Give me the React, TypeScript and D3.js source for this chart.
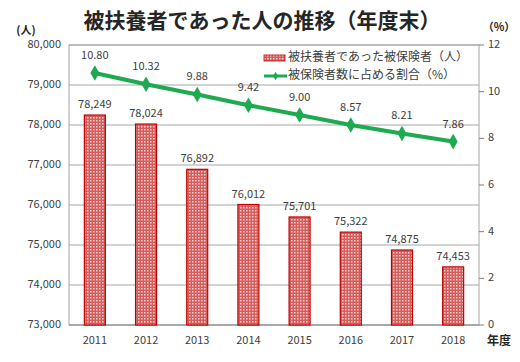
import { useEffect, useRef } from "react";
import * as d3 from "d3";

const years = ["2011", "2012", "2013", "2014", "2015", "2016", "2017", "2018"];
const dependents = [78249, 78024, 76892, 76012, 75701, 75322, 74875, 74453];
const ratio = [10.8, 10.32, 9.88, 9.42, 9.0, 8.57, 8.21, 7.86];
const leftTicks = [73000, 74000, 75000, 76000, 77000, 78000, 79000, 80000];
const rightTicks = [0, 2, 4, 6, 8, 10, 12];

const title = "被扶養者であった人の推移（年度末）";
const barLabel = "被扶養者であった被保険者（人）";
const lineLabel = "被保険者数に占める割合（%）";

const FONT = "'Noto Sans CJK JP', 'Noto Sans', sans-serif";

function App() {
  const ref = useRef<SVGSVGElement>(null);

  useEffect(() => {
    const width = 520;
    const height = 362;
    const margin = { top: 45, right: 41, bottom: 37, left: 69 };
    const innerWidth = width - margin.left - margin.right;
    const innerHeight = height - margin.top - margin.bottom;

    const svg = d3.select(ref.current);
    svg.selectAll("*").remove();

    // dotted red fill like the original bars
    const pattern = svg
      .append("defs")
      .append("pattern")
      .attr("id", "dots")
      .attr("width", 3)
      .attr("height", 3)
      .attr("patternUnits", "userSpaceOnUse");
    pattern.append("rect").attr("width", 3).attr("height", 3).attr("fill", "#d65c5c");
    pattern.append("rect").attr("width", 1.5).attr("height", 1.5).attr("fill", "#f2d4d4");

    const xScale = d3.scaleBand().domain(years).range([0, innerWidth]).paddingInner(0.59).paddingOuter(0.3);
    const yLeft = d3.scaleLinear().domain([73000, 80000]).range([innerHeight, 0]);
    const yRight = d3.scaleLinear().domain([0, 12]).range([innerHeight, 0]);

    const chart = svg.append("g").attr("transform", `translate(${margin.left}, ${margin.top})`);

    // grid
    chart
      .selectAll(".grid")
      .data(leftTicks.slice(1))
      .join("line")
      .attr("x1", 0)
      .attr("x2", innerWidth)
      .attr("y1", d => yLeft(d))
      .attr("y2", d => yLeft(d))
      .attr("stroke", "#a6a6a6")
      .attr("stroke-width", 1);

    chart
      .append("rect")
      .attr("width", innerWidth)
      .attr("height", innerHeight)
      .attr("fill", "none")
      .attr("stroke", "#a6a6a6");

    chart
      .append("line")
      .attr("x1", 0)
      .attr("x2", innerWidth)
      .attr("y1", innerHeight)
      .attr("y2", innerHeight)
      .attr("stroke", "#7f7f7f");

    // left axis labels
    chart
      .selectAll(".lt")
      .data(leftTicks)
      .join("text")
      .attr("x", -8)
      .attr("y", d => yLeft(d))
      .attr("text-anchor", "end")
      .attr("dominant-baseline", "middle")
      .attr("fill", "#404040")
      .style("font-size", "11px")
      .style("font-family", FONT)
      .text(d => d3.format(",")(d));

    // right axis ticks + labels
    chart
      .selectAll(".rtick")
      .data(rightTicks)
      .join("line")
      .attr("x1", innerWidth)
      .attr("x2", innerWidth + 5)
      .attr("y1", d => yRight(d))
      .attr("y2", d => yRight(d))
      .attr("stroke", "#7f7f7f");

    chart
      .selectAll(".rt")
      .data(rightTicks)
      .join("text")
      .attr("x", innerWidth + 9)
      .attr("y", d => yRight(d))
      .attr("dominant-baseline", "middle")
      .attr("fill", "#404040")
      .style("font-size", "11px")
      .style("font-family", FONT)
      .text(d => d);

    // x labels
    chart
      .selectAll(".xt")
      .data(years)
      .join("text")
      .attr("x", d => xScale(d)! + xScale.bandwidth() / 2)
      .attr("y", innerHeight + 16)
      .attr("text-anchor", "middle")
      .attr("dominant-baseline", "middle")
      .attr("fill", "#404040")
      .style("font-size", "11px")
      .style("font-family", FONT)
      .text(d => d);

    // bars
    chart
      .selectAll(".bar")
      .data(dependents)
      .join("rect")
      .attr("x", (d, i) => xScale(years[i])!)
      .attr("y", d => yLeft(d))
      .attr("width", xScale.bandwidth())
      .attr("height", d => innerHeight - yLeft(d))
      .attr("fill", "url(#dots)")
      .attr("stroke", "#c00000")
      .attr("stroke-width", 1.2);

    chart
      .selectAll(".barlabel")
      .data(dependents)
      .join("text")
      .attr("x", (d, i) => xScale(years[i])! + xScale.bandwidth() / 2)
      .attr("y", d => yLeft(d) - 10)
      .attr("text-anchor", "middle")
      .attr("dominant-baseline", "middle")
      .attr("fill", "#404040")
      .style("font-size", "11px")
      .style("font-family", FONT)
      .text(d => d3.format(",")(d));

    // line
    const green = "#1daa50";
    const line = d3
      .line<number>()
      .x((d, i) => xScale(years[i])! + xScale.bandwidth() / 2)
      .y(d => yRight(d));

    chart
      .append("path")
      .datum(ratio)
      .attr("d", line)
      .attr("fill", "none")
      .attr("stroke", green)
      .attr("stroke-width", 4);

    const diamond = d3.symbol().type(d3.symbolDiamond).size(70);
    chart
      .selectAll(".pt")
      .data(ratio)
      .join("path")
      .attr("d", diamond)
      .attr("transform", (d, i) => `translate(${xScale(years[i])! + xScale.bandwidth() / 2}, ${yRight(d)})`)
      .attr("fill", green);

    chart
      .selectAll(".ptlabel")
      .data(ratio)
      .join("text")
      .attr("x", (d, i) => xScale(years[i])! + xScale.bandwidth() / 2)
      .attr("y", d => yRight(d) - 17)
      .attr("text-anchor", "middle")
      .attr("dominant-baseline", "middle")
      .attr("fill", "#404040")
      .style("font-size", "11px")
      .style("font-family", FONT)
      .text(d => d.toFixed(2));

    // legend
    const legend = svg.append("g").attr("transform", "translate(264, 58)");
    legend
      .append("rect")
      .attr("x", 0)
      .attr("y", -3)
      .attr("width", 21)
      .attr("height", 6)
      .attr("fill", "url(#dots)")
      .attr("stroke", "#c00000")
      .attr("stroke-width", 0.8);
    legend
      .append("text")
      .attr("x", 24)
      .attr("y", 0)
      .attr("dominant-baseline", "middle")
      .attr("fill", "#404040")
      .style("font-size", "12px")
      .style("font-family", FONT)
      .text(barLabel);
    legend
      .append("line")
      .attr("x1", 0)
      .attr("x2", 23)
      .attr("y1", 18)
      .attr("y2", 18)
      .attr("stroke", green)
      .attr("stroke-width", 3);
    legend
      .append("path")
      .attr("d", d3.symbol().type(d3.symbolDiamond).size(22))
      .attr("transform", "translate(11.5, 18)")
      .attr("fill", green);
    legend
      .append("text")
      .attr("x", 24)
      .attr("y", 18)
      .attr("dominant-baseline", "middle")
      .attr("fill", "#404040")
      .style("font-size", "12px")
      .style("font-family", FONT)
      .text(lineLabel);

    // titles
    svg
      .append("text")
      .attr("x", 262)
      .attr("y", 22)
      .attr("text-anchor", "middle")
      .attr("dominant-baseline", "middle")
      .attr("fill", "#262626")
      .style("font-size", "21px")
      .style("font-weight", 700)
      .style("font-family", FONT)
      .text(title);

    svg
      .append("text")
      .attr("x", 26)
      .attr("y", 31)
      .attr("text-anchor", "middle")
      .attr("dominant-baseline", "middle")
      .attr("fill", "#262626")
      .style("font-size", "11px")
      .style("font-weight", 700)
      .style("font-family", FONT)
      .text("(人)");

    svg
      .append("text")
      .attr("x", 499)
      .attr("y", 28)
      .attr("text-anchor", "middle")
      .attr("dominant-baseline", "middle")
      .attr("fill", "#262626")
      .style("font-size", "11px")
      .style("font-weight", 700)
      .style("font-family", FONT)
      .text("（%）");

    svg
      .append("text")
      .attr("x", 499)
      .attr("y", 342)
      .attr("text-anchor", "middle")
      .attr("dominant-baseline", "middle")
      .attr("fill", "#262626")
      .style("font-size", "12px")
      .style("font-weight", 700)
      .style("font-family", FONT)
      .text("年度");
  }, []);

  return (
    <svg
      ref={ref}
      width={520}
      height={362}
      style={{ position: "absolute", left: 0, top: 0, background: "#fff" }}
    />
  );
}

export default App;
